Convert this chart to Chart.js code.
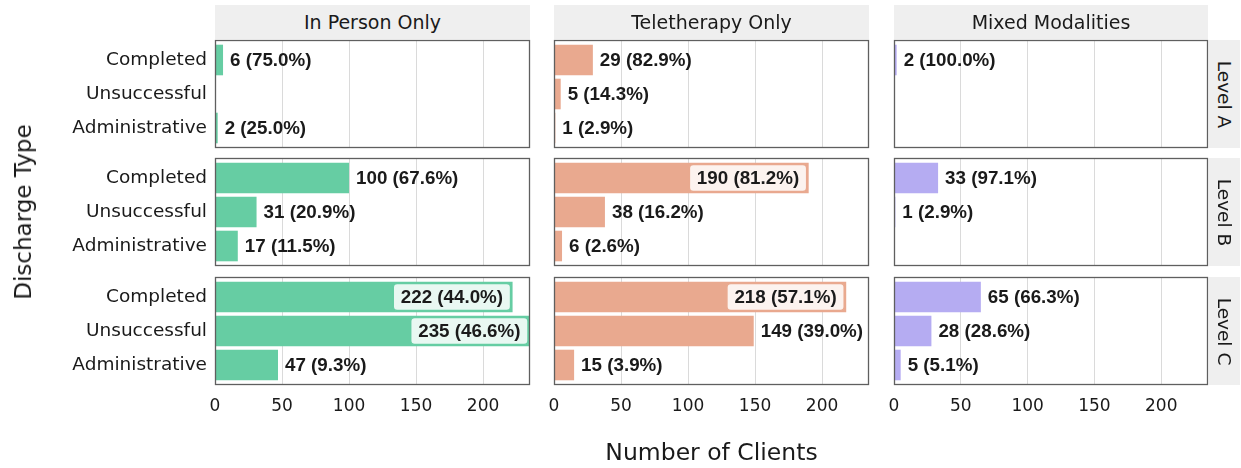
<!DOCTYPE html>
<html>
<head>
<meta charset="utf-8">
<script src="https://cdn.jsdelivr.net/npm/chart.js@4/dist/chart.umd.min.js"></script>
<style>
  body { margin: 0; background: #fff; width: 1241px; height: 468px; position: relative; overflow: hidden;
         font-family: "DejaVu Sans", sans-serif; color: #1a1a1a; }
  .cell { position: absolute; }
  .cell canvas { display: block; }
  .strip { position: absolute; background: #efefef; font-size: 19px; display: flex;
           align-items: center; justify-content: center; white-space: nowrap; z-index: 2; }
  .strip.side { font-size: 18.5px; }
  .strip.side span { display: inline-block; transform: rotate(90deg); }
  .axis-title { position: absolute; font-size: 23.5px; white-space: nowrap; line-height: 28px; }
</style>
</head>
<body>
<script>
// Data
const categories = ['Completed', 'Unsuccessful', 'Administrative'];
const modalities = ['In Person Only', 'Teletherapy Only', 'Mixed Modalities'];
const levels = ['Level A', 'Level B', 'Level C'];
// one row per level (A, B, C), values in category order
const inPersonOnly = [[6, 0, 2], [100, 31, 17], [222, 235, 47]];
const teletherapyOnly = [[29, 5, 1], [190, 38, 6], [218, 149, 15]];
const mixedModalities = [[2, 0, 0], [33, 1, 0], [65, 28, 5]];
const xTicks = [0, 50, 100, 150, 200];
const xMax = 235;

const seriesByColumn = [inPersonOnly, teletherapyOnly, mixedModalities];
const barColors = ['#66cda3', '#e9a98f', '#b5acf2'];

// Layout (page pixels)
const colLeft = [215, 554, 894];
const colWidth = [315, 315, 314];
const rowTop = [40, 158, 277];
const rowHeight = 108;
const pad = 30; // spare canvas margin so axis label overflow never shrinks the plot area

Chart.defaults.font.family = '"DejaVu Sans", sans-serif';
Chart.defaults.color = '#1a1a1a';

const labelPlugin = {
    id: 'valueLabels',
    afterDatasetsDraw(chart) {
        const ctx = chart.ctx;
        const area = chart.chartArea;
        const ds = chart.data.datasets[0];
        const total = ds.data.reduce((t, d) => t + d.x, 0);
        const meta = chart.getDatasetMeta(0);
        ctx.save();
        ctx.font = 'bold 18.8px "Liberation Sans", Arial, sans-serif';
        ctx.textBaseline = 'middle';
        meta.data.forEach((bar, i) => {
            const v = ds.data[i].x;
            if (!v) return;
            const text = v + ' (' + (v / total * 100).toFixed(1) + '%)';
            const w = ctx.measureText(text).width;
            if (bar.x + 7 + w > area.right + 2) {
                // doesn't fit outside -> boxed label inside the bar
                const right = bar.x - 2;
                const left = right - w - 15;
                ctx.beginPath();
                ctx.roundRect(left, bar.y - 13.5, right - left, 27, 4);
                ctx.fillStyle = 'rgba(255,255,255,0.86)';
                ctx.fill();
                ctx.lineWidth = 1.5;
                ctx.strokeStyle = ds.backgroundColor;
                ctx.stroke();
                ctx.fillStyle = '#1a1a1a';
                ctx.textAlign = 'right';
                ctx.fillText(text, right - 7.5, bar.y + 1);
            } else {
                ctx.fillStyle = '#1a1a1a';
                ctx.textAlign = 'left';
                ctx.fillText(text, bar.x + 7, bar.y + 1);
            }
        });
        ctx.restore();
    },
    afterDraw(chart) {
        const a = chart.chartArea;
        const ctx = chart.ctx;
        ctx.save();
        ctx.strokeStyle = '#5f5f5f';
        ctx.lineWidth = 1.3;
        ctx.strokeRect(a.left + 0.5, a.top + 0.5, a.right - a.left - 1, a.bottom - a.top - 1);
        ctx.restore();
    }
};

function addDiv(cls, text, style) {
    const d = document.createElement('div');
    d.className = cls;
    d.textContent = text;
    Object.assign(d.style, style);
    document.body.appendChild(d);
    return d;
}

function makePanel(r, c) {
    const bottomRow = r === 2;
    const firstCol = c === 0;
    const xAxisH = bottomRow ? 34 : 0;
    const left = firstCol ? 0 : colLeft[c] - pad;
    const width = (firstCol ? colLeft[0] : pad) + colWidth[c] + pad;
    const height = pad + rowHeight + xAxisH + pad;

    const wrap = document.createElement('div');
    wrap.className = 'cell';
    wrap.style.left = left + 'px';
    wrap.style.top = (rowTop[r] - pad) + 'px';
    const canvas = document.createElement('canvas');
    canvas.width = width;
    canvas.height = height;
    wrap.appendChild(canvas);
    document.body.appendChild(wrap);

    const values = seriesByColumn[c][r];
    new Chart(canvas.getContext('2d'), {
        type: 'bar',
        data: {
            datasets: [{
                data: values.map((v, i) => ({ x: v, y: i })),
                backgroundColor: barColors[c],
                borderWidth: 0,
                barPercentage: 0.9,
                categoryPercentage: 1
            }]
        },
        options: {
            indexAxis: 'y',
            responsive: false,
            animation: false,
            layout: { padding: { left: firstCol ? 0 : pad, right: pad, top: pad, bottom: pad } },
            plugins: { legend: { display: false }, tooltip: { enabled: false } },
            scales: {
                x: {
                    type: 'linear', min: 0, max: xMax,
                    grid: { color: '#dadada', lineWidth: 1, drawTicks: false },
                    border: { display: false },
                    ticks: { display: bottomRow, padding: 11, font: { size: 17 }, color: '#1a1a1a', maxRotation: 0 },
                    afterBuildTicks: s => { s.ticks = xTicks.map(v => ({ value: v })); },
                    afterFit: s => { s.height = xAxisH; }
                },
                y: {
                    type: 'linear', reverse: true, min: -0.588, max: 2.588,
                    offset: false,
                    display: firstCol,
                    grid: { display: false, drawTicks: false, offset: false },
                    border: { display: false },
                    ticks: { padding: 8, font: { size: 18.5 }, color: '#1a1a1a',
                             callback: v => categories[v] },
                    afterBuildTicks: s => { s.ticks = categories.map((_, i) => ({ value: i })); },
                    afterFit: s => { s.width = firstCol ? colLeft[0] : 0; }
                }
            }
        },
        plugins: [labelPlugin]
    });
}

for (let r = 0; r < levels.length; r++) {
    for (let c = 0; c < modalities.length; c++) {
        makePanel(r, c);
    }
}

// Facet strips
modalities.forEach((m, c) => {
    addDiv('strip', m, { left: colLeft[c] + 'px', top: '5px', width: colWidth[c] + 'px', height: '34px' });
});
levels.forEach((l, r) => {
    const s = addDiv('strip side', '', { left: '1209px', top: rowTop[r] + 'px', width: '31px', height: rowHeight + 'px' });
    const span = document.createElement('span');
    span.textContent = l;
    s.appendChild(span);
});

// Axis titles
addDiv('axis-title', 'Number of Clients', { left: '0px', width: '1423px', textAlign: 'center', top: '438px' });
const yt = addDiv('axis-title', 'Discharge Type', { left: '23px', top: '212px', fontSize: '23px' });
yt.style.transform = 'translate(-50%, -50%) rotate(-90deg)';
</script>
</body>
</html>
